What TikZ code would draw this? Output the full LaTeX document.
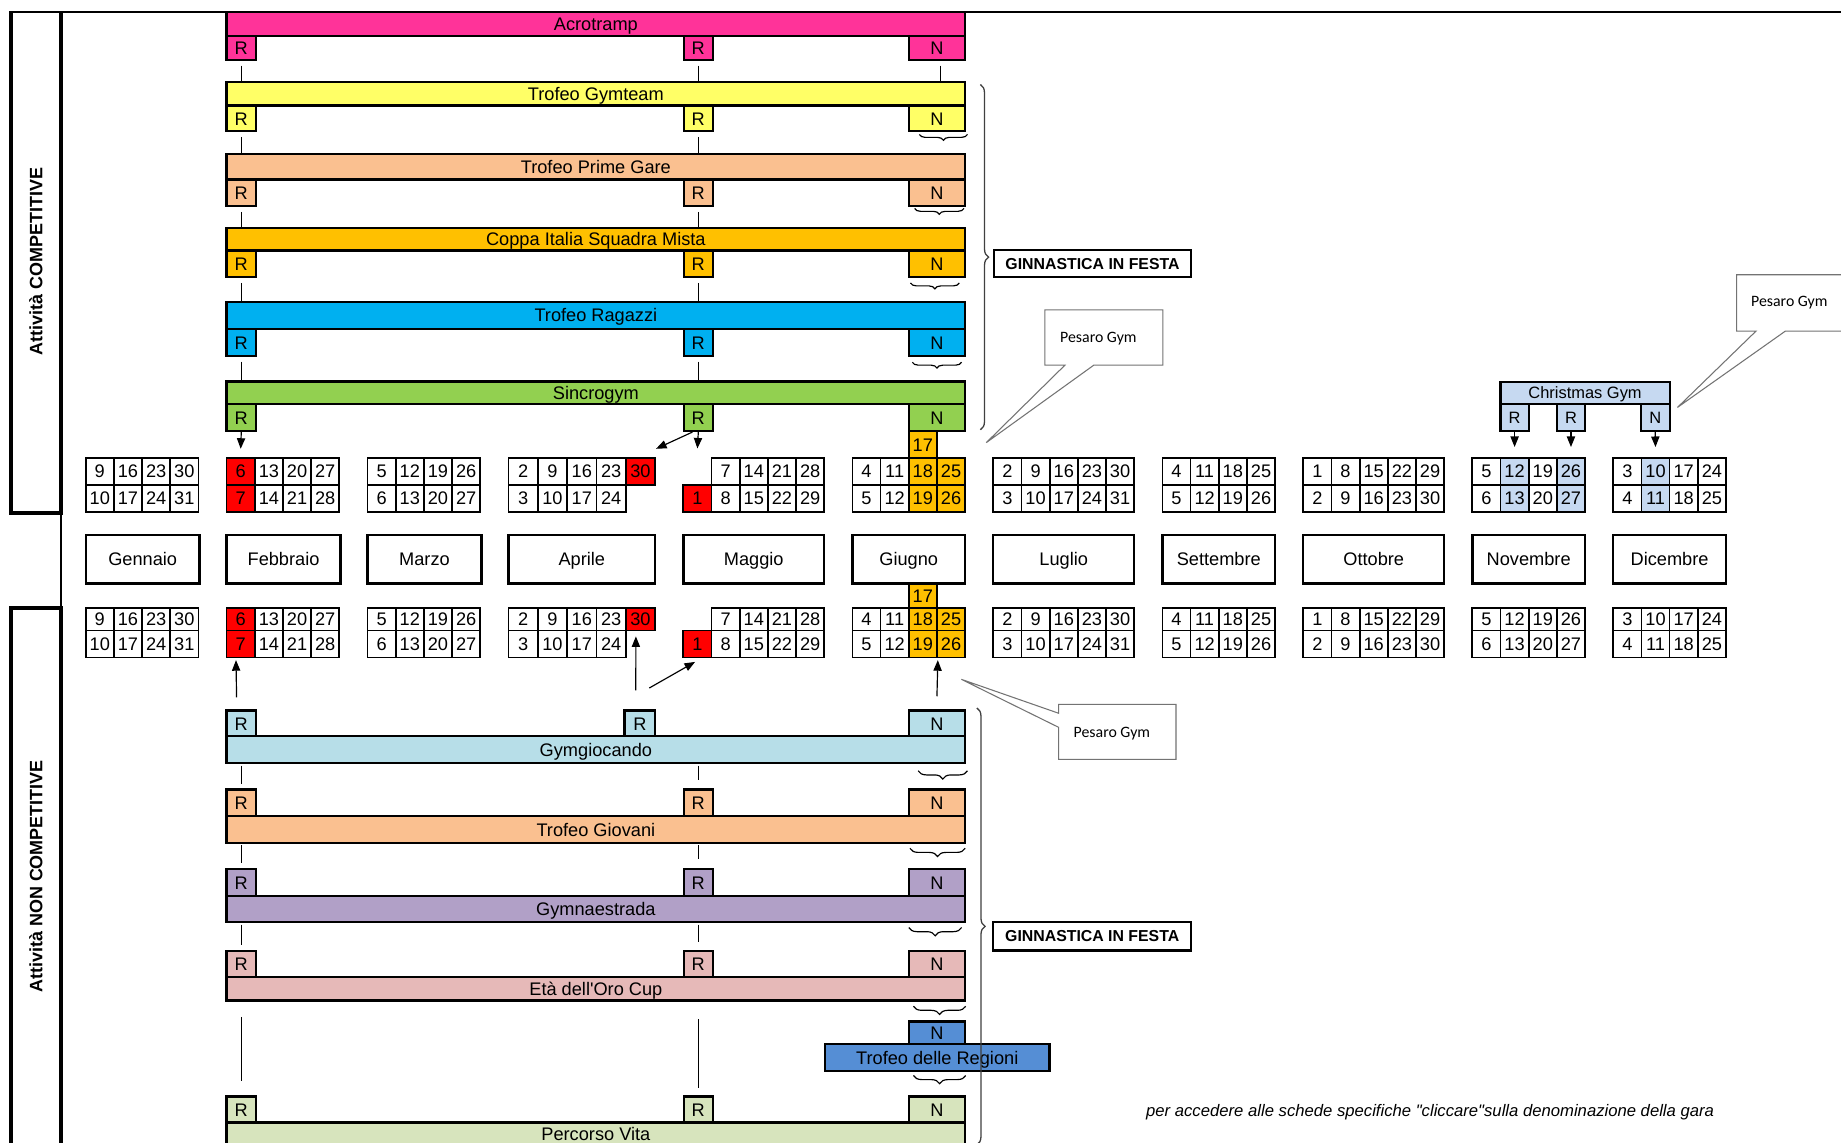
\documentclass[tikz,border=0pt]{standalone}
\usepackage{fontspec}
\setmainfont{Liberation Sans}
\newfontfamily\calibfont{Carlito}
\usetikzlibrary{decorations.pathreplacing,arrows.meta}
\definecolor{cAcro}{HTML}{FF3399}
\definecolor{cGym}{HTML}{FFFF66}
\definecolor{cPeach}{HTML}{FAC090}
\definecolor{cOra}{HTML}{FFC000}
\definecolor{cCyan}{HTML}{00B0F0}
\definecolor{cGreen}{HTML}{92D050}
\definecolor{cLBlue}{HTML}{B7DEE8}
\definecolor{cPurp}{HTML}{B1A0C7}
\definecolor{cRose}{HTML}{E6B9B8}
\definecolor{cBlue}{HTML}{558ED5}
\definecolor{cOlive}{HTML}{D7E4BD}
\definecolor{cXmas}{HTML}{C6D9F1}
\definecolor{cRed}{HTML}{FF0000}
\newcommand\bigfont{\fontsize{15.5}{17}\selectfont}
\newcommand\bx[7][]{\node[#1, minimum width={(#5)-(#3)}, minimum height={(#6)-(#4)}] (#2) at ({((#3)+(#5))/2},{((#4)+(#6))/2}) {#7};}
\newcommand\calrow[6]{\foreach \ct/\cf [count=\i] in {#6} {\node[cellst, fill=\cf, minimum width={#5}, minimum height={(#4)-(#3)}] (#1\i) at ({(#2)+(\i-0.5)*(#5)},{((#3)+(#4))/2}) {\ct};}}
\newcommand\topset[6]{%
 \bx[boxst,fill=#2]{#1Bar}{193}{#3}{822}{#4}{#6}
 \bx[boxst,fill=#2]{#1R1}{193}{#4}{218}{#5}{R}
 \bx[boxst,fill=#2]{#1R2}{582.5}{#4}{607}{#5}{R}
 \bx[boxst,fill=#2]{#1N}{774}{#4}{822}{#5}{N}}
\newcommand\lowset[8]{%
 \bx[boxst,fill=#2]{#1Bar}{193}{#4}{822}{#5}{#6}
 \bx[boxst,fill=#2]{#1R1}{193}{#3}{218}{#4}{R}
 \bx[boxst,fill=#2]{#1R2}{#7}{#3}{#8}{#4}{R}
 \bx[boxst,fill=#2]{#1N}{774}{#3}{822}{#4}{N}}
\newcommand\allcals[5]{%
 \calrow{#1genT}{73}{#2}{#3}{24}{9/white,16/white,23/white,30/white}
 \calrow{#1genB}{73}{#3}{#4}{24}{10/white,17/white,24/white,31/white}
 \calrow{#1febT}{193}{#2}{#3}{24}{6/cRed,13/white,20/white,27/white}
 \calrow{#1febB}{193}{#3}{#4}{24}{7/cRed,14/white,21/white,28/white}
 \calrow{#1marT}{313}{#2}{#3}{24}{5/white,12/white,19/white,26/white}
 \calrow{#1marB}{313}{#3}{#4}{24}{6/white,13/white,20/white,27/white}
 \calrow{#1aprT}{433}{#2}{#3}{25}{2/white,9/white,16/white,23/white,30/cRed}
 \calrow{#1aprB}{433}{#3}{#4}{25}{3/white,10/white,17/white,24/white}
 \calrow{#1mayT}{606}{#2}{#3}{24}{7/white,14/white,21/white,28/white}
 \calrow{#1mayB}{582}{#3}{#4}{24}{1/cRed,8/white,15/white,22/white,29/white}
 \calrow{#1junT}{726}{#2}{#3}{24}{4/white,11/white,18/cOra,25/cOra}
 \calrow{#1junB}{726}{#3}{#4}{24}{5/white,12/white,19/cOra,26/cOra}
 \calrow{#1julT}{846}{#2}{#3}{24}{2/white,9/white,16/white,23/white,30/white}
 \calrow{#1julB}{846}{#3}{#4}{24}{3/white,10/white,17/white,24/white,31/white}
 \calrow{#1setT}{990}{#2}{#3}{24}{4/white,11/white,18/white,25/white}
 \calrow{#1setB}{990}{#3}{#4}{24}{5/white,12/white,19/white,26/white}
 \calrow{#1ottT}{1110}{#2}{#3}{24}{1/white,8/white,15/white,22/white,29/white}
 \calrow{#1ottB}{1110}{#3}{#4}{24}{2/white,9/white,16/white,23/white,30/white}
 \calrow{#1novT}{1254}{#2}{#3}{24}{5/white,12/#5,19/white,26/#5}
 \calrow{#1novB}{1254}{#3}{#4}{24}{6/white,13/#5,20/white,27/#5}
 \calrow{#1decT}{1374}{#2}{#3}{24}{3/white,10/#5,17/white,24/white}
 \calrow{#1decB}{1374}{#3}{#4}{24}{4/white,11/#5,18/white,25/white}}
\tikzset{
 boxst/.style={draw, line width=2pt, inner sep=0pt, font=\bigfont, text height=11.5pt, text depth=0pt},
 cellst/.style={draw, line width=1.5pt, inner sep=0pt, font=\bigfont, text height=11pt, text depth=0pt},
 conn/.style={line width=1pt},
 arr/.style={line width=1pt, -{Triangle[length=9pt,width=7pt]}},
 sbrace/.style={decorate, decoration={brace, mirror, amplitude=#1}, line width=1pt},
 sbrace/.default=5pt,
 bbrace/.style={decorate, decoration={brace, amplitude=7pt}, line width=1.1pt, black!75},
 gbox/.style={draw, line width=2pt, inner sep=0pt, font=\bfseries\fontsize{13.5}{15}\selectfont},
 callout/.style={draw=black!55, line width=0.9pt, fill=white},
 ctext/.style={font=\calibfont\fontsize{13.5}{15}\selectfont, inner sep=0pt},
 side/.style={line width=3.2pt},
}
\begin{document}
\begin{tikzpicture}[x=1pt,y=-1pt]
\useasboundingbox (0,0) rectangle (1568,973.5);
\clip (0,0) rectangle (1568,973.5);
\fill[white] (0,0) rectangle (1568,973.5);
% frame
\draw[line width=1.5pt] (8,10) -- (1570,10);
\draw[side] (52,10) -- (52,437) -- (9.5,437) -- (9.5,10);
\draw[side] (52,990) -- (52,518) -- (9.5,518) -- (9.5,990);
\draw[line width=1.2pt] (52,437) -- (52,518);
\node[rotate=90, font=\bfseries\fontsize{15.3}{17}\selectfont] (lblComp) at (30.5,222.5) {Attività COMPETITIVE};
\node[rotate=90, font=\bfseries\fontsize{15.3}{17}\selectfont] (lblNon) at (30.5,746.5) {Attività NON COMPETITIVE};
% competitive bars
\topset{ac}{cAcro}{10}{30.5}{51}{Acrotramp}
\topset{gt}{cGym}{70}{90}{111.5}{Trofeo Gymteam}
\topset{pg}{cPeach}{131}{153}{175.5}{Trofeo Prime Gare}
\topset{ci}{cOra}{194}{213.5}{236}{Coppa Italia Squadra Mista}
\topset{tr}{cCyan}{257}{280}{303}{Trofeo Ragazzi}
\topset{sg}{cGreen}{325}{344}{367}{Sincrogym}
\foreach \pa/\pb in {ac/gt, gt/pg, pg/ci, ci/tr, tr/sg} {
 \draw[conn] ([yshift=-4pt]\pa R1.south) -- (\pa R1.south |- \pb Bar.north);
 \draw[conn] ([yshift=-4pt]\pa R2.south) -- (\pa R2.south |- \pb Bar.north);
}
\draw[conn] ([xshift=3pt,yshift=-4pt]acN.south) -- ([xshift=3pt]acN.south |- gtBar.north);
\draw[sbrace] (783,114.5) -- (824,114.5);
\draw[sbrace] (779,177.5) -- (821,177.5);
\draw[sbrace] (775.5,241) -- (817,241);
\draw[sbrace] (777,308.5) -- (819,308.5);
\draw[bbrace] (835,72) -- (835,366);
\bx[gbox]{gif1}{846.5}{213}{1014.5}{236}{GINNASTICA IN FESTA}
% callout 1
\draw[callout] (890,264) -- (990.5,264) -- (990.5,311) -- (931.6,311) -- (840,377) -- (907,311) -- (890,311) -- cycle;
\node[ctext] (pgym1) at (935.5,288) {Pesaro Gym};
% calendars
\allcals{t}{390}{413}{436}{cXmas}
\allcals{b}{518}{537}{560}{white}
\bx[cellst, fill=cOra]{t17}{774}{367.5}{798}{390}{17}
\bx[cellst, fill=cOra]{b17}{774}{497}{798}{518}{17}
% months
\bx[boxst]{mGen}{73}{455.5}{170}{497}{Gennaio}
\bx[boxst]{mFeb}{193}{455.5}{290}{497}{Febbraio}
\bx[boxst]{mMar}{313}{455.5}{410}{497}{Marzo}
\bx[boxst]{mApr}{433}{455.5}{558}{497}{Aprile}
\bx[boxst]{mMag}{582}{455.5}{702}{497}{Maggio}
\bx[boxst]{mGiu}{726}{455.5}{822}{497}{Giugno}
\bx[boxst]{mLug}{846}{455.5}{966}{497}{Luglio}
\bx[boxst]{mSet}{990}{455.5}{1086}{497}{Settembre}
\bx[boxst]{mOtt}{1110}{455.5}{1230}{497}{Ottobre}
\bx[boxst]{mNov}{1254}{455.5}{1350}{497}{Novembre}
\bx[boxst]{mDic}{1374}{455.5}{1470}{497}{Dicembre}
% sincrogym arrows
\draw[arr] (sgR1.south) -- ([yshift=7pt]tfebT1.north);
\coordinate (mayTipTop) at (594,382);
\draw[arr] (sgR2.south) -- (mayTipTop);
\draw[arr] ([xshift=-5pt]sgR2.south) -- ([yshift=7pt]taprT5.north east);
% christmas gym
\bx[boxst, fill=cXmas, line width=1.8pt, font=\fontsize{14}{16}\selectfont, text height=10.5pt]{cgBar}{1278}{325}{1422}{344}{Christmas Gym}
\bx[boxst, fill=cXmas, line width=1.8pt, font=\fontsize{14}{16}\selectfont, text height=10.5pt]{cgR1}{1278}{344}{1302}{367}{R}
\bx[boxst, fill=cXmas, line width=1.8pt, font=\fontsize{14}{16}\selectfont, text height=10.5pt]{cgR2}{1326}{344}{1350}{367}{R}
\bx[boxst, fill=cXmas, line width=1.8pt, font=\fontsize{14}{16}\selectfont, text height=10.5pt]{cgN}{1397.5}{344}{1422}{367}{N}
\draw[arr] (cgR1.south) -- ([yshift=8.5pt]tnovT2.north);
\draw[arr] (cgR2.south) -- ([yshift=8.5pt]tnovT4.north);
\draw[arr] (cgN.south) -- ([yshift=8.5pt]tdecT2.north);
\draw[callout] (1479,234) -- (1600,234) -- (1600,282) -- (1520.6,282) -- (1428.7,347) -- (1495.6,282) -- (1479,282) -- cycle;
\node[ctext] (pgym2) at (1524,258) {Pesaro Gym};
% non competitive
\lowset{gg}{cLBlue}{605}{627}{650}{Gymgiocando}{532}{558}
\lowset{gi}{cPeach}{672.5}{695}{718}{Trofeo Giovani}{582.5}{607}
\lowset{gn}{cPurp}{740}{763}{785.5}{Gymnaestrada}{582.5}{607}
\lowset{eo}{cRose}{810}{832}{852}{Età dell\textquotesingle Oro Cup}{582.5}{607}
\lowset{pv}{cOlive}{934}{956}{976}{Percorso Vita}{582.5}{607}
\draw[line width=2pt, fill=cOlive] (193,976) rectangle (822,990);
\bx[boxst, fill=cBlue]{tdN}{774}{870}{822}{889}{N}
\bx[boxst, fill=cBlue]{tdBar}{702.5}{889}{894}{912}{Trofeo delle Regioni}
\foreach \pa/\pb in {gg/gi, gi/gn, gn/eo} {
 \draw[conn] ([yshift=-1pt]\pa Bar.south -| \pb R1.north) -- ([yshift=4pt]\pb R1.north);
 \draw[conn] ([yshift=-1pt]\pa Bar.south -| \pb R2.north) -- ([yshift=7pt]\pb R2.north);
}
\draw[conn] ([yshift=-13pt]eoBar.south -| pvR1.north) -- ([yshift=12pt]pvR1.north);
\draw[conn] ([yshift=-15pt]eoBar.south -| pvR2.north) -- ([yshift=6pt]pvR2.north);
% lower arrows
\draw[arr] ([xshift=-4pt,yshift=10pt]ggR1.north) -- ([xshift=-4pt,yshift=-1.5pt]bfebB1.south);
\coordinate (aprTip) at (541.6,542);
\draw[arr] ([xshift=-3.5pt,yshift=16pt]ggR2.north) -- (aprTip);
\draw[arr] ([xshift=8pt,yshift=18pt]ggR2.north) -- ([xshift=-2pt,yshift=-3pt]bmayB1.south);
\draw[arr] ([yshift=11pt]ggN.north) -- ([yshift=-1.5pt]bjunB3.south east);
% lower braces
\draw[sbrace=7pt] (782,656.5) -- (824,656.5);
\draw[sbrace=7pt] (775,722.5) -- (822,722.5);
\draw[sbrace=7pt] (774,790) -- (819,790);
\draw[sbrace=7pt] (778,857) -- (822.5,857);
\draw[sbrace=7pt] (778,916) -- (822.5,916);
\draw[bbrace] (832,603) -- (832,975);
\bx[gbox]{gif2}{846}{785.5}{1014.5}{809.5}{GINNASTICA IN FESTA}
% callout 3
\draw[callout] (901.7,600) -- (1001.6,600) -- (1001.6,646.7) -- (901.7,646.7) -- (901.7,619.5) -- (818.8,578.6) -- (901.7,607.5) -- cycle;
\node[ctext] (pgym3) at (947,624.6) {Pesaro Gym};
% footer
\node[font=\itshape\fontsize{14.2}{16}\selectfont, inner sep=0pt, anchor=base west] (foot) at (976,951) {per accedere alle schede specifiche \textquotedbl cliccare\textquotedbl sulla denominazione della gara};
\end{tikzpicture}
\end{document}
